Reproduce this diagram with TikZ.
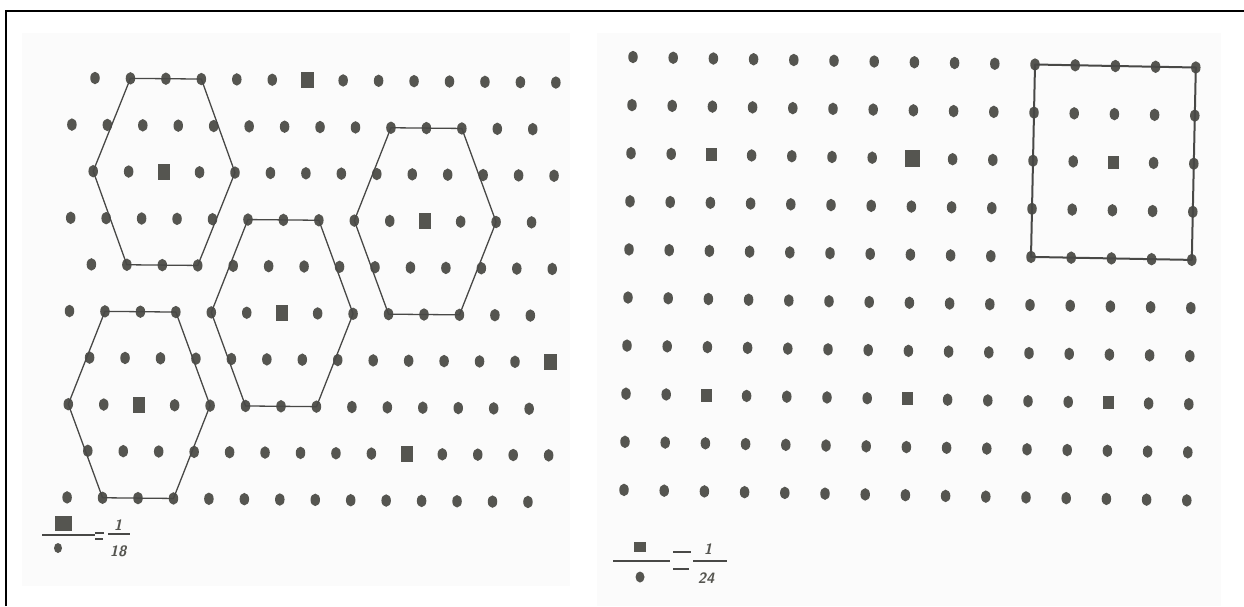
\documentclass[tikz,border=0pt]{standalone}
\usepackage{xcolor}
\usepackage{tikz}
\usetikzlibrary{shapes.geometric}
\definecolor{InkGray}{RGB}{85,85,80}
\definecolor{LineGray}{RGB}{72,72,70}
\definecolor{PaperGray}{RGB}{251,251,251}

\begin{document}
\begin{tikzpicture}[x=1pt, y=-1pt,
    dotL/.style={ellipse, fill=InkGray, inner sep=0pt,
                 minimum width=9.5pt, minimum height=12.5pt},
    sqL/.style={rectangle, fill=InkGray, inner sep=0pt,
                minimum width=12.5pt, minimum height=16pt},
    sqR/.style={sqL, minimum width=11pt, minimum height=13pt},
    sqRbig/.style={sqL, minimum width=15pt, minimum height=17pt},
    hexline/.style={draw=LineGray, line width=1.3pt, line join=round},
    boxline/.style={draw=LineGray, line width=2pt, line join=round},
    keybar/.style={draw=LineGray, line width=1.2pt},
    digit/.style={font=\fontsize{15}{15}\selectfont\sffamily\bfseries\itshape,
                  text=InkGray, inner sep=0pt}
  ]
  \useasboundingbox (0,0) rectangle (1244,606);

  % paper of the two scans
  \fill[PaperGray] (22,33) rectangle (570,586);
  \fill[PaperGray] (597,33) rectangle (1221,606);
  \draw[line width=2.5pt, line join=miter] (6,606) -- (6,11) -- (1244,11);

  % left: hexagonal lattice
  \foreach \p in {0-6,2-2,3-10,5-6,6-13,7-2,8-9}
    {\expandafter\gdef\csname markL\p\endcsname{}}
  \foreach \r in {0,...,9}{
    \foreach \c in {0,...,13}{
      \pgfmathsetmacro{\xx}{(mod(\r,2)==1 ? 72.5-0.6*\r : 95-0.9*\r) + 35.45*\c}
      \pgfmathsetmacro{\yy}{78 + 46.6*\r + 0.35*\c}
      \ifcsname markL\r-\c\endcsname
        \node[sqL] (L-\r-\c) at (\xx,\yy) {};
      \else
        \node[dotL] (L-\r-\c) at (\xx,\yy) {};
      \fi
    }
  }
  \draw[hexline] (L-0-1.center) -- (L-0-3.center) -- (L-2-4.center)
        -- (L-4-3.center) -- (L-4-1.center) -- (L-2-0.center) -- cycle;
  \draw[hexline] (L-3-5.center) -- (L-3-7.center) -- (L-5-8.center)
        -- (L-7-7.center) -- (L-7-5.center) -- (L-5-4.center) -- cycle;
  \draw[hexline] (L-1-9.center) -- (L-1-11.center) -- (L-3-12.center)
        -- (L-5-11.center) -- (L-5-9.center) -- (L-3-8.center) -- cycle;
  \draw[hexline] (L-5-1.center) -- (L-5-3.center) -- (L-7-4.center)
        -- (L-9-3.center) -- (L-9-1.center) -- (L-7-0.center) -- cycle;

  % left key
  \node[sqL, minimum width=17pt, minimum height=15pt] (keysqL) at (63,523) {};
  \node[dotL, minimum width=8pt, minimum height=10pt] (keydotL) at (58,548) {};
  \draw[keybar] (42,535) -- (95,535);
  \draw[keybar] (95,533) -- (104,533) (95,539) -- (103,539);
  \node[digit] (oneL) at (118,525) {1};
  \draw[keybar] (108,534) -- (130,534);
  \node[digit] (denL) at (118,551) {18};

  % right: square lattice
  \foreach \p in {2-2,2-12,7-2,7-7,7-12}
    {\expandafter\gdef\csname markR\p\endcsname{}}
  \foreach \r in {0,...,9}{
    \foreach \c in {0,...,14}{
      \pgfmathsetmacro{\xx}{633 - 1.0*\r + 40.2*\c}
      \pgfmathsetmacro{\yy}{57 + 48.1*\r + 0.75*\c}
      \ifnum\r\c=27
        \node[sqRbig] (R-\r-\c) at (\xx,\yy) {};
      \else
        \ifcsname markR\r-\c\endcsname
          \node[sqR] (R-\r-\c) at (\xx,\yy) {};
        \else
          \node[dotL] (R-\r-\c) at (\xx,\yy) {};
        \fi
      \fi
    }
  }
  \draw[boxline] (R-0-10.center) -- (R-0-14.center) -- (R-4-14.center)
        -- (R-4-10.center) -- cycle;

  % right key
  \node[sqL, minimum width=12pt, minimum height=10pt] (keysqR) at (640,547) {};
  \node[dotL, minimum width=9pt, minimum height=11pt] (keydotR) at (640,577) {};
  \draw[keybar] (613,561) -- (670,561);
  \draw[keybar] (673,552) -- (691,552) (673,569) -- (689,569);
  \node[digit] (oneR) at (708,549) {1};
  \draw[keybar] (693,561) -- (727,561);
  \node[digit] (denR) at (706,578) {24};
\end{tikzpicture}
\end{document}
